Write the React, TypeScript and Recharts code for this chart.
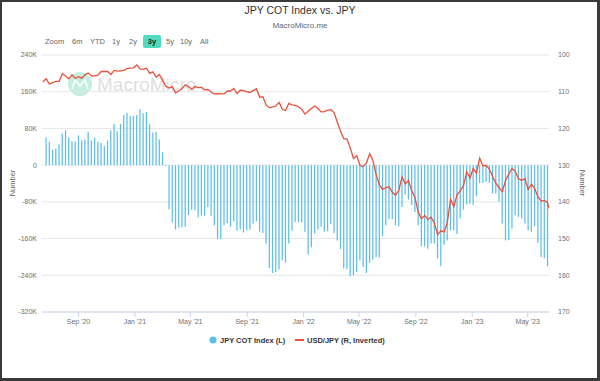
import { ComposedChart, Bar, Line, XAxis, YAxis, CartesianGrid } from 'recharts'

const DAY = 86400000
const FONT = '"Liberation Sans", Arial, sans-serif'

// JPY non-commercial net positions, thousands of contracts, weekly (Tuesdays)
const cotStart = '2020-06-23'
const cotValues = [
  60, 51, 34, 36, 45, 69, 76, 60, 52, 52, 65, 54, 56, 73, 54, 60, 51, 48, 41, 54,
  76, 90, 74, 90, 109, 114, 107, 107, 109, 122, 113, 116, 89, 71, 72, 56, 28, -2,
  -96, -125, -140, -136, -136, -134, -109, -97, -98, -114, -110, -110, -91, -110, -131, -161,
  -161, -131, -126, -134, -122, -143, -140, -147, -142, -140, -127, -122, -145, -148, -171, -224,
  -235, -233, -227, -207, -212,
  -171, -143, -124, -124, -125, -145, -195, -179, -149, -140, -134, -145, -144, -129, -148, -164,
  -183, -225, -227, -242, -240, -233, -207, -222, -235, -213, -206, -200, -201, -155, -131, -118,
  -118, -131, -133, -91, -64, -75, -87,
  -102, -131, -177, -177, -182, -171, -171, -203, -220, -174, -164, -142, -142, -150, -116, -97,
  -85, -84, -87, -68, -39, -39, -37, -39, -62, -62, -80, -127, -164, -163, -138, -109,
  -113, -116, -127, -142, -145, -133, -169, -200, -203, -220,
]

// USD/JPY weekly, plotted on an inverted right axis
const usdJpyStart = '2020-06-16'
const usdJpyValues = [
  107.3, 106.5, 107.9, 107.5, 107.2, 107.2, 105.1, 105.7, 106.5, 105.4, 106.4, 105.9, 106.3, 105.4, 104.9,
  105.7, 105.7, 105.5, 104.5, 104.5, 104.5, 105.3, 104.2, 104.4, 104.3, 104.2, 103.7, 103.6, 103.5,
  102.7, 103.8, 103.9, 103.6, 105.0, 104.6, 106.0, 105.3, 106.9, 108.5, 109.0, 108.6, 110.3,
  109.8, 109.1, 108.1, 108.6, 109.3, 108.6, 108.9, 108.8, 109.5, 109.4, 110.1, 110.6, 110.5,
  110.6, 110.6, 109.8, 109.8, 109.1, 110.5, 109.6, 109.7, 110.0, 110.2, 109.7, 109.2, 111.5,
  111.4, 113.6, 114.4, 114.1, 113.9, 112.9, 114.8, 115.1, 113.2, 113.6, 113.7, 114.1, 114.8,
  116.1, 115.3, 114.6, 113.9, 114.6, 115.5, 115.4, 115.0, 114.9, 115.7, 118.3, 120.8, 122.8,
  122.9, 125.3, 128.2, 127.4, 130.1, 130.4, 129.4, 126.9, 128.7, 132.6, 135.4, 136.6, 136.1,
  135.9, 137.4, 138.2, 136.9, 133.2, 135.1, 134.2, 137.0, 138.8, 142.8, 144.6, 143.7, 144.8,
  144.2, 145.8, 149.0, 147.9, 148.2, 145.6, 139.3, 141.3, 138.1, 137.0, 135.6, 131.8, 133.5,
  130.9, 132.2, 128.1, 130.2, 130.1, 131.1, 133.1, 134.9, 136.2, 137.2, 134.2, 132.4, 130.9,
  131.7, 133.7, 134.1, 133.7, 136.6, 135.2, 136.4, 138.6, 139.8, 139.6, 140.2,
]
const usdJpyLastDate = '2023-06-16'
const usdJpyLast = 141.8

const xDomain = ['2020-06-14', '2023-06-16']
const xTicks = ['2020-09-01', '2021-01-01', '2021-05-01', '2021-09-01', '2022-01-01', '2022-05-01', '2022-09-01', '2023-01-01', '2023-05-01']
const leftTicks = [-320, -240, -160, -80, 0, 80, 160, 240]
const rightTicks = [100, 110, 120, 130, 140, 150, 160, 170]
const rangeButtons = [
  { label: 'Zoom', x: 45 },
  { label: '6m', x: 72 },
  { label: 'YTD', x: 90 },
  { label: '1y', x: 112 },
  { label: '2y', x: 129 },
  { label: '3y', x: 146 },
  { label: '5y', x: 166 },
  { label: '10y', x: 180 },
  { label: 'All', x: 200 },
]
const MONTHS = ['Jan', 'Feb', 'Mar', 'Apr', 'May', 'Jun', 'Jul', 'Aug', 'Sep', 'Oct', 'Nov', 'Dec']

const ts = (s: string) => new Date(s + 'T00:00:00Z').getTime()

const cotData = cotValues.map((v, i) => ({ t: ts(cotStart) + i * 7 * DAY, cot: v * 1000 }))
const lineData = usdJpyValues
  .map((v, i) => ({ t: ts(usdJpyStart) + i * 7 * DAY, usdjpy: v }))
  .concat([{ t: ts(usdJpyLastDate), usdjpy: usdJpyLast }])

const BLUE = '#5cbfe9'
const RED = '#e8503a'

const fmtDate = (t: number) => {
  const d = new Date(t)
  return `${MONTHS[d.getUTCMonth()]} '${String(d.getUTCFullYear()).slice(2)}`
}
const fmtK = (v: number) => (v === 0 ? '0' : `${v / 1000}K`)

const tickStyle = { fontSize: 7, fill: '#707070', fontFamily: FONT }

export default function App() {
  return (
    <div style={{ position: 'fixed', left: 0, top: 0, width: 600, height: 381, background: '#fff', fontFamily: FONT, overflow: 'hidden' }}>
      <div style={{ position: 'absolute', left: 0, top: 4, width: 600, textAlign: 'center', fontSize: 10.5, color: '#333' }}>
        JPY COT Index vs. JPY
      </div>
      <div style={{ position: 'absolute', left: 0, top: 21, width: 600, textAlign: 'center', fontSize: 8, color: '#666' }}>
        MacroMicro.me
      </div>
      {rangeButtons.map((b) =>
        b.label === '3y' ? (
          <div key={b.label} style={{ position: 'absolute', left: 143, top: 35, width: 18, height: 13, background: '#4fdcbd', borderRadius: 2, fontSize: 7.5, fontWeight: 'bold', color: '#222', textAlign: 'center', lineHeight: '13px' }}>
            {b.label}
          </div>
        ) : (
          <div key={b.label} style={{ position: 'absolute', left: b.x, top: 36, fontSize: 7.5, color: '#666', lineHeight: '11px' }}>
            {b.label}
          </div>
        )
      )}
      {/* watermark */}
      <svg style={{ position: 'absolute', left: 0, top: 0 }} width={600} height={381}>
        <circle cx={80} cy={84} r={12} fill="#c3efe3" />
        <polyline points="72,89 75,80 80,86 85,80 88,89" fill="none" stroke="#fff" strokeWidth={1.6} />
        <text x={97} y={91} fontSize={19} fill="#e0e0e0" fontFamily={FONT}>MacroMicro</text>
      </svg>
      <div style={{ position: 'absolute', left: 0, top: 0 }}>
        <ComposedChart width={600} height={381} data={cotData} margin={{ top: 55, right: 0, bottom: 49, left: 0 }}>
          <CartesianGrid yAxisId="left" vertical={false} stroke="#e6e6e6" />
          <XAxis
            dataKey="t"
            type="number"
            scale="linear"
            domain={[ts(xDomain[0]), ts(xDomain[1])]}
            allowDataOverflow
            ticks={xTicks.map(ts)}
            tickFormatter={fmtDate}
            height={20}
            stroke="#ccd6eb"
            tickSize={5}
            tickMargin={2}
            tick={tickStyle}
          />
          <YAxis
            yAxisId="left"
            width={42}
            domain={[-320000, 240000]}
            ticks={leftTicks.map((v) => v * 1000)}
            tickFormatter={fmtK}
            axisLine={false}
            tickLine={false}
            tickSize={0}
            tickMargin={5}
            tick={tickStyle}
          />
          <YAxis
            yAxisId="right"
            orientation="right"
            width={51}
            reversed
            domain={[100, 170]}
            ticks={rightTicks}
            axisLine={false}
            tickLine={false}
            tickSize={0}
            tickMargin={9}
            tick={tickStyle}
          />
          <Bar yAxisId="left" dataKey="cot" fill={BLUE} barSize={2} isAnimationActive={false} />
          <Line yAxisId="right" data={lineData} dataKey="usdjpy" stroke={RED} strokeWidth={1.3} dot={false} isAnimationActive={false} />
        </ComposedChart>
      </div>
      {/* axis titles */}
      <div style={{ position: 'absolute', left: 12, top: 183, transform: 'translate(-50%, -50%) rotate(-90deg)', fontSize: 7.5, color: '#666' }}>Number</div>
      <div style={{ position: 'absolute', left: 582, top: 183, transform: 'translate(-50%, -50%) rotate(90deg)', fontSize: 7.5, color: '#666' }}>Number</div>
      {/* legend */}
      <svg style={{ position: 'absolute', left: 0, top: 332 }} width={600} height={16}>
        <circle cx={213} cy={8} r={3.5} fill={BLUE} />
        <text x={220} y={10.6} fontSize={7.5} fontWeight="bold" fill="#333" fontFamily={FONT}>JPY COT Index (L)</text>
        <line x1={295} x2={304} y1={8} y2={8} stroke={RED} strokeWidth={2} />
        <text x={307} y={10.6} fontSize={7.5} fontWeight="bold" fill="#333" fontFamily={FONT}>USD/JPY (R, Inverted)</text>
      </svg>
      <div style={{ position: 'absolute', left: 0, top: 0, width: 600, height: 381, boxSizing: 'border-box', borderTop: '2px solid #3a3a3a', borderLeft: '2px solid #3a3a3a', borderRight: '3px solid #3a3a3a', borderBottom: '3px solid #3a3a3a', pointerEvents: 'none' }} />
    </div>
  )
}
